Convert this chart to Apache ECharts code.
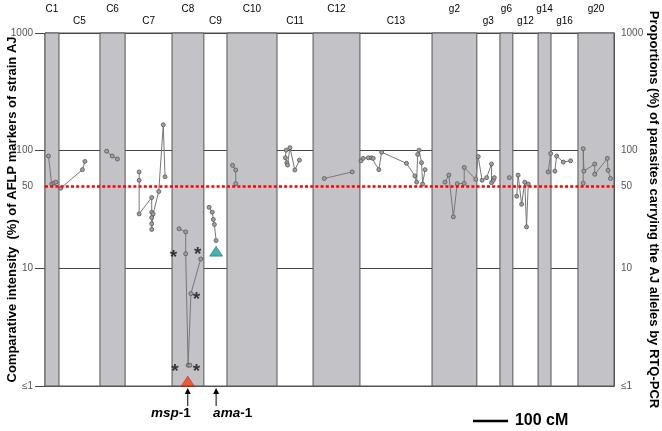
<!DOCTYPE html>
<html>
<head>
<meta charset="utf-8">
<script src="https://cdn.jsdelivr.net/npm/echarts@6/dist/echarts.min.js"></script>
<style>html,body{margin:0;padding:0;background:#fff}#c{width:662px;height:431px}</style>
</head>
<body>
<div id="c"></div>
<script>
// ---- chromosome bands (cM along genome) ----
const bandNames = ['C1','C5','C6','C7','C8','C9','C10','C11','C12','C13','g2','g3','g6','g12','g14','g16','g20'];
const bandEdges = [0,40,157,229,363,454,520,663,766,900,1106,1234,1300,1337,1409,1446,1523,1626];

// ---- marker positions (cM) and comparative intensity (%) ----
const c1Pos = [10,19,26,31];           const c1Val = [90,52,53,54];
const c5Pos = [45,107,114];            const c5Val = [48,69,81];
const c6Pos = [176,192,207];           const c6Val = [99,90,85];
const c7Pos = [269,269,269,305,305,305,305,305,309,325,338,343];
const c7Val = [66,56,29,40,30,27,24,21.4,29,45,166,60];
const c8Pos = [383,402,402,409,414,417,445];
const c8Val = [21.7,20.4,13.3,1.5,1.5,6.1,12];
const c9Pos = [469,478,481,484,489];   const c9Val = [33,30,26,23.6,17.2];
const c10Pos = [536,545,545];          const c10Val = [75,68.5,52.4];
const c11Pos = [689,687,691,693,700,714,727];
const c11Val = [101,87,79,75.5,106,68.5,83];
const c12Pos = [798,878];              const c12Val = [58,66];
const c13Pos = [903,909,924,933,938,954,962,1033,1057,1062,1065,1069,1076,1079,1086];
const c13Val = [82,86,87,87,86,69,97,78,61,54,93,101,79,52,69];
const g2g3Pos = [1143,1154,1167,1178,1198,1198,1231,1238,1249,1262,1276,1276,1281,1284];
const g2g3Val = [54,62,27.4,52.4,52.7,72,57,89,56,59,77,53.5,56,59];
const g6Pos = [1327];                  const g6Val = [59];
const g12Pos = [1348,1352,1362,1371,1376,1381]; const g12Val = [41,62,35,54,22.5,52];
const g14Pos = [1438,1445];            const g14Val = [66,94.5];
const g16Pos = [1457,1462,1481,1502];  const g16Val = [67,90,80,82];
const g20Pos = [1538,1538,1540,1571,1571,1607,1609,1616];
const g20Val = [53,104,67,77,63,86,68,58];

// ---- annotations ----
const starPos = [367,371,433,433,436];
const starVal = [13.3,1.43,5.85,1.43,14.2];
const mspPos = 408, mspTriVal = 1.1;   // RTQ-PCR msp-1 (red)
const amaPos = 489, amaTriVal = 14;    // RTQ-PCR ama-1 (teal)
const thresholdVal = 50;
const scaleStart = 1223, scaleLen = 100;

const FONT = "'Liberation Sans', Arial, sans-serif";
const NARROW = "'Liberation Sans Narrow', 'Liberation Sans', Arial, sans-serif";
const groups = [
  [c1Pos,c1Val],[c5Pos,c5Val],[c6Pos,c6Val],[c7Pos,c7Val],[c8Pos,c8Val],[c9Pos,c9Val],
  [c10Pos,c10Val],[c11Pos,c11Val],[c12Pos,c12Val],[c13Pos,c13Val],[g2g3Pos,g2g3Val],
  [g6Pos,g6Val],[g12Pos,g12Val],[g14Pos,g14Val],[g16Pos,g16Val],[g20Pos,g20Val]
];
const zip = (a,b) => a.map((x,i)=>[x,b[i]]);

const bandAreas = bandNames.map((n,i)=>{
  const gray = i % 2 === 0;
  const upper = i % 2 === 0;
  return [{
    xAxis: bandEdges[i],
    itemStyle: gray ? {color:'#c3c2c7', borderColor:'#555', borderWidth:1} : {color:'rgba(0,0,0,0)', borderWidth:0},
    label: {show:true, position:'top', formatter:n, distance: upper ? 18 : 7,
            color:'#000', fontSize:10, fontFamily:FONT}
  }, {xAxis: bandEdges[i+1]}];
});

const chart = echarts.init(document.getElementById('c'), null, {renderer:'canvas'});

const yCommon = {
  type:'log', logBase:10, min:1, max:1000, splitNumber:3,
  axisLabel:{color:'#555', fontSize:10, fontFamily:NARROW,
    formatter: v => { const r = Math.round(v); return r === 1 ? '≤1' : String(r); }},
  nameLocation:'middle', nameMoveOverlap:false,
  nameTextStyle:{fontSize:13, fontWeight:'bold', color:'#000', fontFamily:FONT}
};

const series = [{
  type:'line', data:[], z:1, silent:true,
  markArea:{silent:true, data:bandAreas},
  markLine:{silent:true, symbol:'none',
    data:[{yAxis:thresholdVal}],
    lineStyle:{color:'#ff0000', type:[3,2.2], width:2.6},
    label:{show:false}}
}];
groups.forEach(([p,v]) => series.push({
  type:'line', data: zip(p,v), z:3, silent:true,
  symbol:'circle', symbolSize:4,
  lineStyle:{color:'#777', width:1},
  itemStyle:{color:'#a0a0a0', borderColor:'#555', borderWidth:0.8}
}));
series.push({
  type:'scatter', z:4, silent:true, symbolSize:0,
  data: zip(starPos, starVal),
  label:{show:true, position:'inside', formatter:'*', fontSize:19, fontWeight:'bold', color:'#111',
         offset:[0,4], fontFamily:FONT}
});
series.push({
  type:'scatter', z:5, silent:true, symbol:'triangle', symbolSize:[13,10],
  data:[{value:[mspPos, mspTriVal], itemStyle:{color:'#ff3a10', borderColor:'#a01000', borderWidth:0.6}},
        {value:[amaPos, amaTriVal], itemStyle:{color:'#1a9e9a', borderColor:'#0a5050', borderWidth:0.6}}]
});

chart.setOption({
  animation:false,
  backgroundColor:'#fff',
  textStyle:{fontFamily:FONT},
  grid:{left:45, right:48, top:33, bottom:45, show:true, borderColor:'#555', borderWidth:1,
        containLabel:false, outerBoundsMode:'none'},
  xAxis:{type:'value', min:bandEdges[0], max:bandEdges[bandEdges.length-1],
    axisLine:{show:true, lineStyle:{color:'#555'}}, axisTick:{show:false}, axisLabel:{show:false}, splitLine:{show:false}},
  yAxis:[
    Object.assign({}, yCommon, {position:'left',
      name:'Comparative intensity  (%) of AFLP markers of strain AJ', nameRotate:90, nameGap:26,
      axisLine:{show:true, lineStyle:{color:'#555'}},
      axisTick:{show:true, length:10, lineStyle:{color:'#444'}},
      axisLabel:Object.assign({}, yCommon.axisLabel, {margin:12}),
      splitLine:{show:true, lineStyle:{color:'#444', width:1}},
      minorTick:{show:false}}),
    Object.assign({}, yCommon, {position:'right',
      name:'Proportions (%) of parasites carrying the AJ alleles by RTQ-PCR', nameRotate:-90, nameGap:33,
      axisLine:{show:true, lineStyle:{color:'#555'}},
      axisTick:{show:false},
      axisLabel:Object.assign({}, yCommon.axisLabel, {margin:7}),
      splitLine:{show:false}})
  ],
  series: series
});

// threshold "50" labels on both sides, bottom annotations
const yPix = v => chart.convertToPixel({yAxisIndex:0}, v);
const xPix = v => chart.convertToPixel({xAxisIndex:0}, v);
const gLeft = xPix(bandEdges[0]), gRight = xPix(bandEdges[bandEdges.length-1]);
const y50 = yPix(thresholdVal);
const arrowTop = 388, arrowBottom = 406;
function arrow(x){
  return [
    {type:'line', shape:{x1:x, y1:arrowTop+4, x2:x, y2:arrowBottom}, style:{stroke:'#000', lineWidth:1}},
    {type:'polygon', shape:{points:[[x,arrowTop],[x-3,arrowTop+6],[x+3,arrowTop+6]]}, style:{fill:'#000'}}
  ];
}
const xm = xPix(mspPos), xa = xPix(amaPos);
const xs0 = xPix(scaleStart), xs1 = xPix(scaleStart+scaleLen);
chart.setOption({graphic:[
  {type:'text', x:gLeft-12, y:y50, style:{text:String(thresholdVal), align:'right', verticalAlign:'middle', fill:'#555',
     font:"10px " + NARROW}},
  {type:'text', x:gRight+7, y:y50, style:{text:String(thresholdVal), align:'left', verticalAlign:'middle', fill:'#555',
     font:"10px " + NARROW}},
  ...arrow(xm), ...arrow(xa),
  {type:'text', x:xm+3, y:413, style:{text:'{i|msp}{b|-1}', align:'right', verticalAlign:'middle',
     rich:{i:{fontStyle:'italic', fontWeight:'bold', fontSize:13.5, fontFamily:FONT, fill:'#000'},
           b:{fontWeight:'bold', fontSize:13.5, fontFamily:FONT, fill:'#000'}}}},
  {type:'text', x:xa-3, y:413, style:{text:'{i|ama}{b|-1}', align:'left', verticalAlign:'middle',
     rich:{i:{fontStyle:'italic', fontWeight:'bold', fontSize:13.5, fontFamily:FONT, fill:'#000'},
           b:{fontWeight:'bold', fontSize:13.5, fontFamily:FONT, fill:'#000'}}}},
  {type:'line', shape:{x1:xs0, y1:421, x2:xs1, y2:421}, style:{stroke:'#000', lineWidth:2.5}},
  {type:'text', x:xs1+7, y:421, style:{text:scaleLen+' cM', align:'left', verticalAlign:'middle',
     font:"bold 16px 'Liberation Sans', Arial, sans-serif", fill:'#000'}}
]});
</script>
</body>
</html>
